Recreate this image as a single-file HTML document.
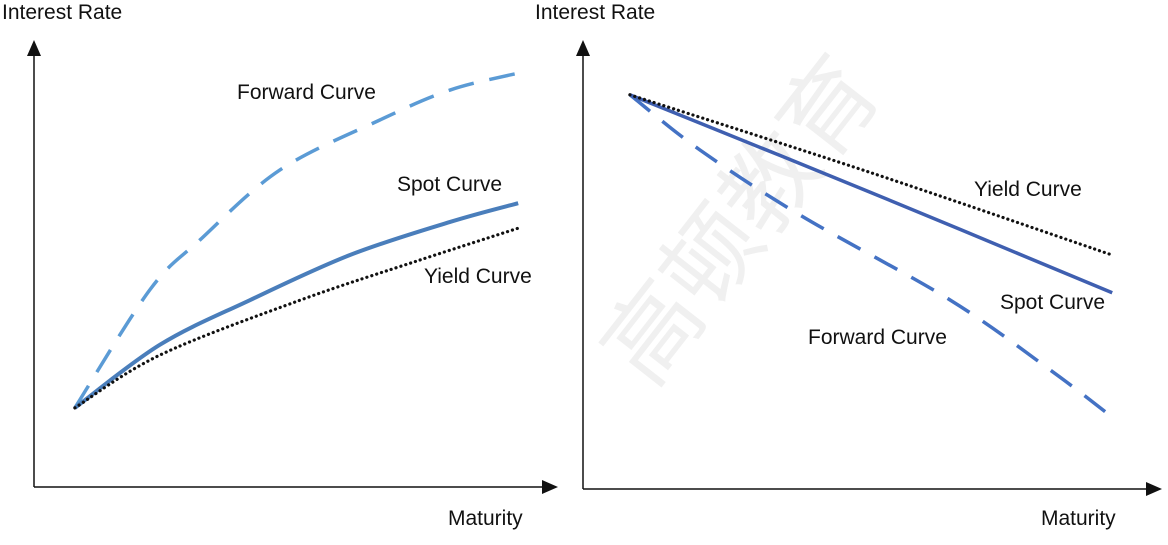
<!DOCTYPE html>
<html><head><meta charset="utf-8"><style>
html,body{margin:0;padding:0;background:#fff;}
svg text{font-family:"Liberation Sans","Noto Sans CJK SC",sans-serif;font-size:21px;fill:#111;}
</style></head><body>
<svg id="chart" width="1168" height="540" viewBox="0 0 1168 540" xmlns="http://www.w3.org/2000/svg">
<text x="0" y="0" transform="translate(650,390) rotate(-52)" style="font-size:95px;fill:#f0f0f0;font-family:'Noto Sans CJK SC',sans-serif;">高顿教育</text>
<g id="left"></g>
<g id="right"></g>
</svg>
<script>
// Left chart (upward sloping) — maturity / rate in 0..100 units
const leftForwardX=[7.8,22.1,31.7,46.9,66.0,79.4,92.4];
const leftForwardY=[17.7,44.1,55.3,70.9,82.1,88.8,92.6];
const leftSpotX=[7.8,24.0,41.2,60.3,79.4,92.4];
const leftSpotY=[17.7,31.8,41.8,51.9,59.3,63.5];
const leftYieldX=[7.8,24.0,50.8,73.7,92.4];
const leftYieldY=[17.7,29.5,41.8,50.8,57.9];
// Right chart (inverted)
const rightYieldX=[8.1,49.6,91.4];
const rightYieldY=[87.8,70.5,52.1];
const rightSpotX=[8.1,49.6,91.4];
const rightSpotY=[87.8,66.1,43.7];
const rightForwardX=[8.1,20.2,37.5,63.4,80.7,91.4];
const rightForwardY=[87.8,75.5,61.0,42.1,26.5,16.0];

const NS="http://www.w3.org/2000/svg";
function mk(tag,attrs,parent){const e=document.createElementNS(NS,tag);for(const k in attrs)e.setAttribute(k,attrs[k]);parent.appendChild(e);return e;}
function smooth(pts){let d="M"+pts[0][0]+","+pts[0][1];
 for(let i=0;i<pts.length-1;i++){const p0=pts[Math.max(i-1,0)],p1=pts[i],p2=pts[i+1],p3=pts[Math.min(i+2,pts.length-1)];
 const c1=[p1[0]+(p2[0]-p0[0])/6,p1[1]+(p2[1]-p0[1])/6],c2=[p2[0]-(p3[0]-p1[0])/6,p2[1]-(p3[1]-p1[1])/6];
 d+=" C"+c1[0]+","+c1[1]+" "+c2[0]+","+c2[1]+" "+p2[0]+","+p2[1];}return d;}

function drawChart(g,x0,x1,y0,y1,series,labels){
 const sx=v=>x0+(x1-x0)*v/100, sy=v=>y0-(y0-y1)*v/100;
 const ax=mk('path',{d:`M${x0},${y0} L${x0},${y1+14} M${x0},${y0} L${x1-14},${y0}`,stroke:'#111','stroke-width':1.5,fill:'none'},g);
 
 
 const ar=mk('path',{d:`M${x0},${y1} L${x0-7},${y1+16} L${x0+7},${y1+16} Z M${x1},${y0} L${x1-16},${y0-7} L${x1-16},${y0+7} Z`,fill:'#111'},g);
 
 
 series.forEach(s=>{
  const pts=s.x.map((v,i)=>[sx(v),sy(s.y[i])]);
  const p=mk('path',{d:smooth(pts),fill:'none',stroke:s.c,'stroke-width':s.w,'stroke-dasharray':s.dash||'none','stroke-linecap':s.cap||'butt'},g);
  
  
 });
 labels.forEach(l=>{
  const t=mk('text',{x:l[0],y:l[1]},g);t.textContent=l[2];
  
  
 });
}
drawChart(document.getElementById('left'),34,558,487,40,[
 {x:leftForwardX,y:leftForwardY,c:'#5b9bd5',w:3.5,dash:'26 16',name:'left-forward-curve'},
 {x:leftSpotX,y:leftSpotY,c:'#4a7ebb',w:4,name:'left-spot-curve'},
 {x:leftYieldX,y:leftYieldY,c:'#111',w:3.2,dash:'0.1 5',cap:'round',name:'left-yield-curve'}
],[[2,19,'Interest Rate','y-axis-title-left'],[237,99,'Forward Curve','label-forward-left'],[397,191,'Spot Curve','label-spot-left'],[424,283,'Yield Curve','label-yield-left'],[448,525,'Maturity','x-axis-title-left']]);
drawChart(document.getElementById('right'),583,1162,489,40,[
 {x:rightForwardX,y:rightForwardY,c:'#4472c4',w:3.5,dash:'26 16',name:'right-forward-curve'},
 {x:rightSpotX,y:rightSpotY,c:'#3f5fb0',w:3.5,name:'right-spot-curve'},
 {x:rightYieldX,y:rightYieldY,c:'#111',w:3.2,dash:'0.1 5',cap:'round',name:'right-yield-curve'}
],[[535,19,'Interest Rate','y-axis-title-right'],[974,196,'Yield Curve','label-yield-right'],[1000,309,'Spot Curve','label-spot-right'],[808,344,'Forward Curve','label-forward-right'],[1041,525,'Maturity','x-axis-title-right']]);
</script>
</body></html>
